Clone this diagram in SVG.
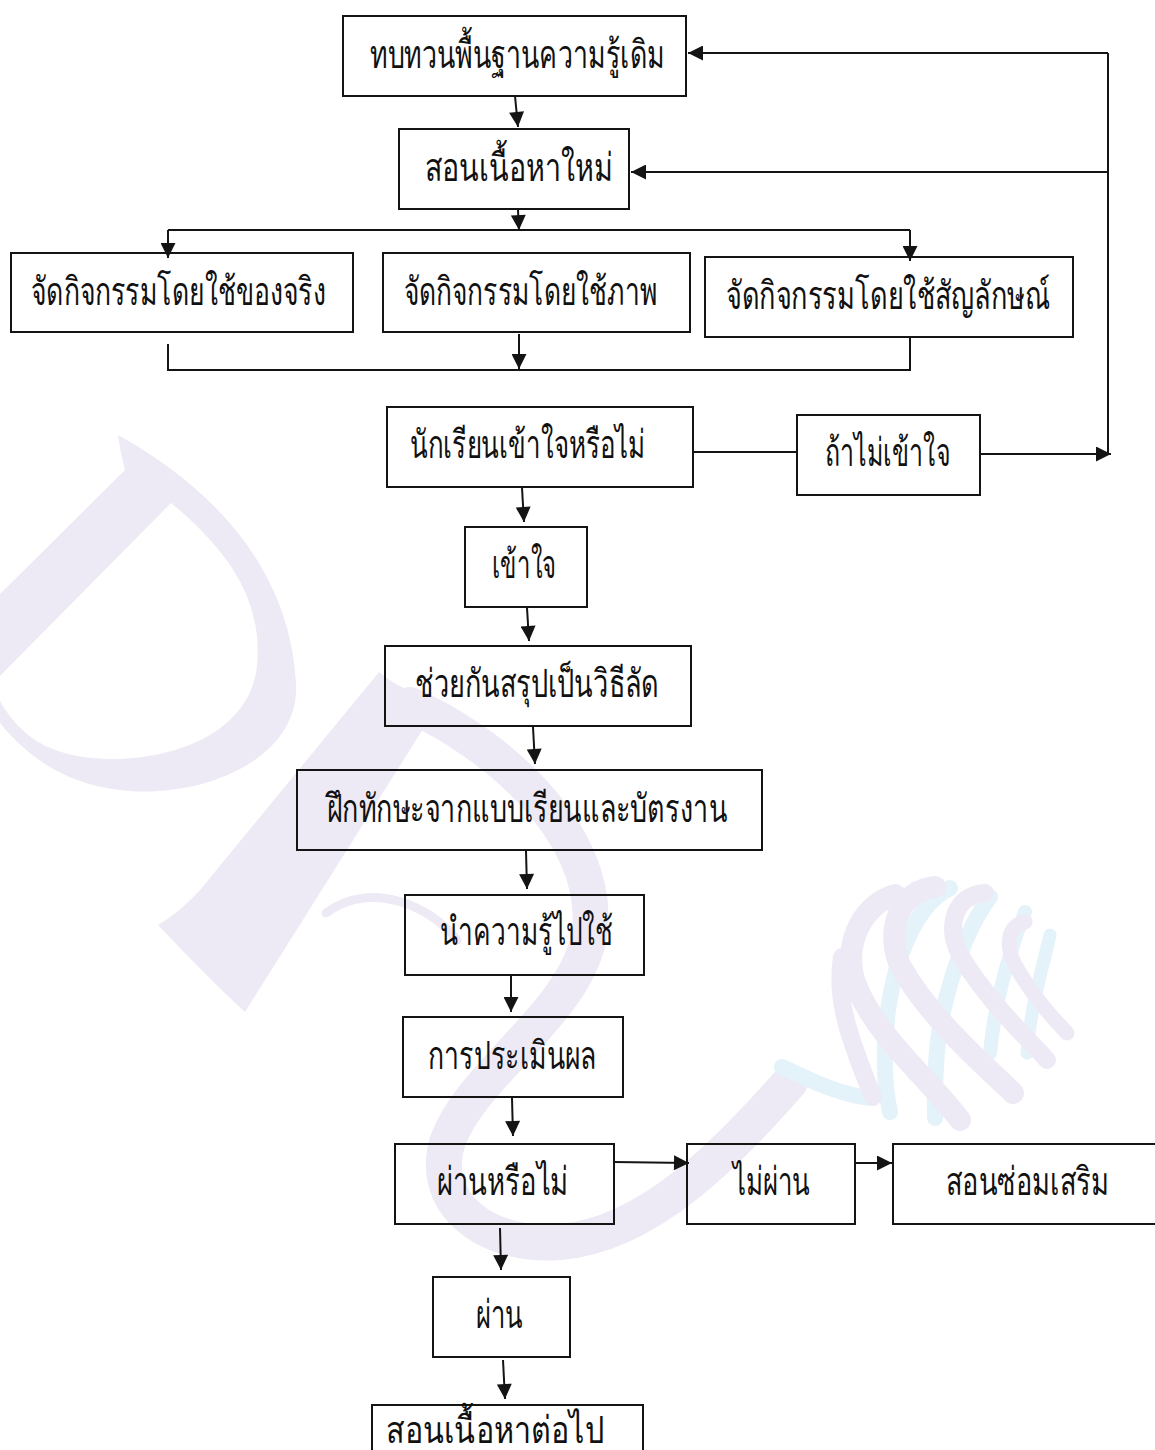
<svg xmlns="http://www.w3.org/2000/svg" width="1155" height="1450" viewBox="0 0 1155 1450">
<style>
.box{fill:none;stroke:#141414;stroke-width:2}
.ln{fill:none;stroke:#141414;stroke-width:2}
.t{font-family:"Liberation Serif","Noto Sans CJK SC",serif;font-size:34px;fill:#111;text-anchor:start}
.wm1{fill:#eeeaf5}
.wl{fill:none;stroke:#eeeaf5;stroke-linecap:round}
.wb{fill:none;stroke:#e4f2f9;stroke-linecap:round}
</style>
<defs>
<marker id="ah" viewBox="0 0 10 10" refX="10" refY="5" markerWidth="17" markerHeight="15" markerUnits="userSpaceOnUse" orient="auto"><path d="M0,0 L10,5 L0,10 z" fill="#141414"/></marker>
</defs>
<rect width="1155" height="1450" fill="#ffffff"/>
<g id="watermark">
<path class="wm1" fill-rule="evenodd" d="M0,594 L125,470 Q120,452 118,435 C200,480 290,560 296,684 C300,760 200,800 120,790 C70,785 30,760 0,723 Z M171,503 C240,560 262,610 257,666 C250,730 180,760 107,759 C60,757 25,745 0,701 L0,676 Z"/>
<path class="wm1" d="M379,672 Q400,690 440,702 L245,1012 Q215,985 158,925 Q180,912 200,890 Z"/>
<path class="wl" stroke-width="36" d="M410,705 C490,740 600,830 590,930 C580,1010 475,1070 448,1140 C428,1200 482,1248 560,1242 C650,1235 730,1150 790,1082"/>
<path class="wl" stroke-width="9" d="M326,913 C370,880 430,905 457,940"/>
<path class="wb" stroke-width="16" d="M950,888 C915,905 895,960 888,1010 C882,1060 885,1090 890,1112"/>
<path class="wb" stroke-width="16" d="M990,897 C965,930 945,990 938,1040 C934,1080 935,1100 935,1118"/>
<path class="wb" stroke-width="14" d="M1025,912 C1010,950 995,1000 990,1053"/>
<path class="wb" stroke-width="13" d="M1050,935 C1042,970 1030,1010 1027,1053"/>
<path class="wb" stroke-width="16" d="M782,1067 C810,1080 840,1095 870,1098"/>
<path class="wl" stroke-width="18" d="M842,957 C835,1000 850,1040 873,1097"/>
<path class="wl" stroke-width="22" d="M895,895 C860,905 840,950 858,990 C880,1040 930,1080 960,1120"/>
<path class="wl" stroke-width="22" d="M935,887 C900,890 885,930 900,965 C930,1020 990,1070 1013,1093"/>
<path class="wl" stroke-width="18" d="M985,893 C955,895 945,925 960,955 C990,1005 1030,1040 1047,1060"/>
<path class="wl" stroke-width="15" d="M1025,922 C1008,925 1005,945 1015,965 C1035,1000 1055,1020 1067,1033"/>
</g>
<g id="connectors">
<line class="ln" x1="515" y1="96" x2="518" y2="127" marker-end="url(#ah)"/>
<line class="ln" x1="1108" y1="53" x2="1108" y2="455"/>
<line class="ln" x1="1108" y1="53" x2="688" y2="53" marker-end="url(#ah)"/>
<line class="ln" x1="1108" y1="172" x2="631" y2="172" marker-end="url(#ah)"/>
<line class="ln" x1="518" y1="210" x2="519" y2="230" marker-end="url(#ah)"/>
<line class="ln" x1="168" y1="230" x2="910" y2="230"/>
<line class="ln" x1="168" y1="230" x2="168" y2="258" marker-end="url(#ah)"/>
<line class="ln" x1="910" y1="230" x2="910" y2="261" marker-end="url(#ah)"/>
<line class="ln" x1="168" y1="344" x2="168" y2="371"/>
<line class="ln" x1="168" y1="370" x2="910" y2="370"/>
<line class="ln" x1="910" y1="338" x2="910" y2="371"/>
<line class="ln" x1="519" y1="334" x2="519" y2="369" marker-end="url(#ah)"/>
<line class="ln" x1="693" y1="452" x2="797" y2="452"/>
<line class="ln" x1="980" y1="454" x2="1111" y2="454" marker-end="url(#ah)"/>
<line class="ln" x1="522" y1="488" x2="524" y2="522" marker-end="url(#ah)"/>
<line class="ln" x1="527" y1="608" x2="529" y2="641" marker-end="url(#ah)"/>
<line class="ln" x1="533" y1="727" x2="535" y2="764" marker-end="url(#ah)"/>
<line class="ln" x1="526" y1="851" x2="527" y2="889" marker-end="url(#ah)"/>
<line class="ln" x1="511" y1="976" x2="511" y2="1012" marker-end="url(#ah)"/>
<line class="ln" x1="512" y1="1098" x2="513" y2="1136" marker-end="url(#ah)"/>
<line class="ln" x1="614" y1="1162" x2="689" y2="1163" marker-end="url(#ah)"/>
<line class="ln" x1="855" y1="1163" x2="892" y2="1163" marker-end="url(#ah)"/>
<line class="ln" x1="500" y1="1228" x2="501" y2="1270" marker-end="url(#ah)"/>
<line class="ln" x1="503" y1="1360" x2="505" y2="1399" marker-end="url(#ah)"/>
</g>
<g id="n1"><rect class="box" x="343" y="16" width="343" height="80"/><text class="t" transform="translate(370,68) scale(1,1.15)" textLength="295" lengthAdjust="spacingAndGlyphs">ทบทวนพื้นฐานความรู้เดิม</text></g>
<g id="n2"><rect class="box" x="399" y="129" width="230" height="80"/><text class="t" transform="translate(425,181) scale(1,1.15)" textLength="188" lengthAdjust="spacingAndGlyphs">สอนเนื้อหาใหม่</text></g>
<g id="n3"><rect class="box" x="11" y="253" width="342" height="79"/><text class="t" transform="translate(31,305) scale(1,1.15)" textLength="295" lengthAdjust="spacingAndGlyphs">จัดกิจกรรมโดยใช้ของจริง</text></g>
<g id="n4"><rect class="box" x="383" y="253" width="307" height="79"/><text class="t" transform="translate(404,305) scale(1,1.15)" textLength="253" lengthAdjust="spacingAndGlyphs">จัดกิจกรรมโดยใช้ภาพ</text></g>
<g id="n5"><rect class="box" x="705" y="257" width="368" height="80"/><text class="t" transform="translate(726,309) scale(1,1.15)" textLength="324" lengthAdjust="spacingAndGlyphs">จัดกิจกรรมโดยใช้สัญลักษณ์</text></g>
<g id="n6"><rect class="box" x="387" y="407" width="306" height="80"/><text class="t" transform="translate(410,458) scale(1,1.15)" textLength="235" lengthAdjust="spacingAndGlyphs">นักเรียนเข้าใจหรือไม่</text></g>
<g id="n7"><rect class="box" x="797" y="415" width="183" height="80"/><text class="t" transform="translate(825,466) scale(1,1.15)" textLength="125" lengthAdjust="spacingAndGlyphs">ถ้าไม่เข้าใจ</text></g>
<g id="n8"><rect class="box" x="465" y="527" width="122" height="80"/><text class="t" transform="translate(492,578) scale(1,1.15)" textLength="64" lengthAdjust="spacingAndGlyphs">เข้าใจ</text></g>
<g id="n9"><rect class="box" x="385" y="646" width="306" height="80"/><text class="t" transform="translate(415,697) scale(1,1.15)" textLength="244" lengthAdjust="spacingAndGlyphs">ช่วยกันสรุปเป็นวิธีลัด</text></g>
<g id="n10"><rect class="box" x="297" y="770" width="465" height="80"/><text class="t" transform="translate(327,822) scale(1,1.15)" textLength="400" lengthAdjust="spacingAndGlyphs">ฝึกทักษะจากแบบเรียนและบัตรงาน</text></g>
<g id="n11"><rect class="box" x="405" y="895" width="239" height="80"/><text class="t" transform="translate(440,945) scale(1,1.15)" textLength="173" lengthAdjust="spacingAndGlyphs">นำความรู้ไปใช้</text></g>
<g id="n12"><rect class="box" x="403" y="1017" width="220" height="80"/><text class="t" transform="translate(428,1069) scale(1,1.15)" textLength="168" lengthAdjust="spacingAndGlyphs">การประเมินผล</text></g>
<g id="n13"><rect class="box" x="395" y="1144" width="219" height="80"/><text class="t" transform="translate(437,1195) scale(1,1.15)" textLength="131" lengthAdjust="spacingAndGlyphs">ผ่านหรือไม่</text></g>
<g id="n14"><rect class="box" x="687" y="1144" width="168" height="80"/><text class="t" transform="translate(733,1195) scale(1,1.15)" textLength="77" lengthAdjust="spacingAndGlyphs">ไม่ผ่าน</text></g>
<g id="n15"><rect class="box" x="893" y="1144" width="270" height="80"/><text class="t" transform="translate(946,1195) scale(1,1.15)" textLength="163" lengthAdjust="spacingAndGlyphs">สอนซ่อมเสริม</text></g>
<g id="n16"><rect class="box" x="433" y="1277" width="137" height="80"/><text class="t" transform="translate(476,1328) scale(1,1.15)" textLength="47" lengthAdjust="spacingAndGlyphs">ผ่าน</text></g>
<g id="n17"><rect class="box" x="372" y="1405" width="271" height="60"/><text class="t" transform="translate(386,1443) scale(1,1.12)" textLength="218" lengthAdjust="spacingAndGlyphs">สอนเนื้อหาต่อไป</text></g>
</svg>
